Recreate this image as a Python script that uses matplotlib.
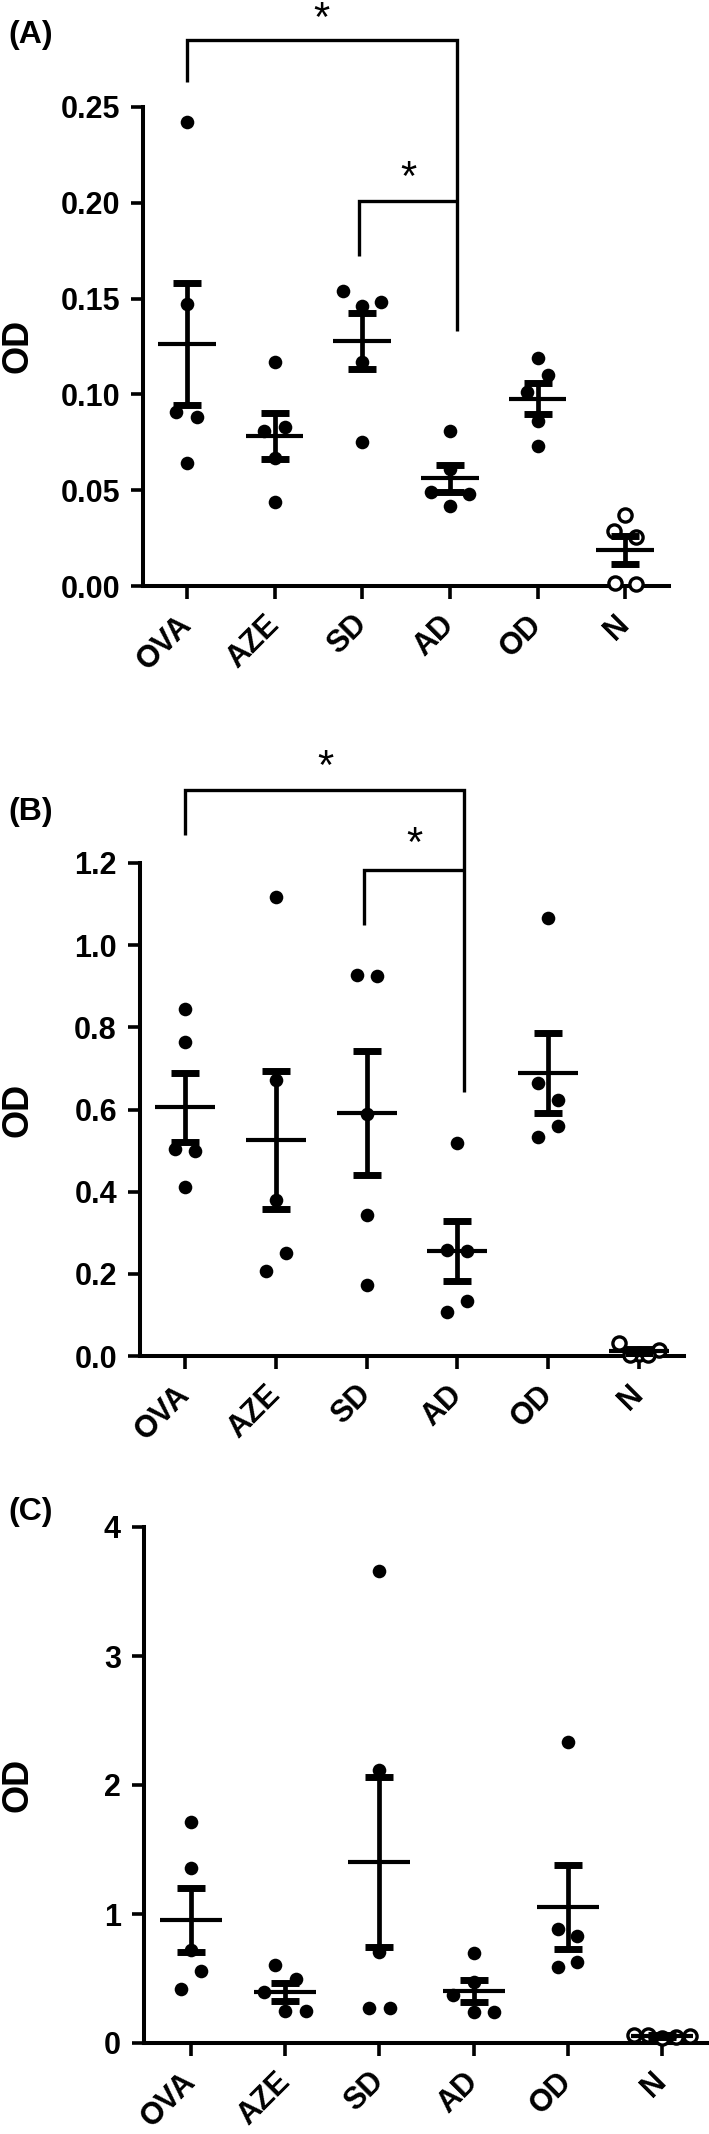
#!/usr/bin/env python3

'''Three stacked dot plots (mean +/- SEM) of OD per group.'''

import numpy as np
import matplotlib
matplotlib.use('Agg')
import matplotlib.pyplot as plt
from matplotlib.transforms import ScaledTranslation

plt.rcParams['font.family'] = ['Liberation Sans', 'DejaVu Sans']
plt.rcParams['font.weight'] = 'bold'

W, H = 709, 2134
DPI = 100

GROUPS = ['OVA', 'AZE', 'SD', 'AD', 'OD', 'N']

# Panel A
A_OVA = [0.242, 0.147, 0.091, 0.088, 0.064]
A_AZE = [0.117, 0.081, 0.083, 0.067, 0.044]
A_SD = [0.154, 0.146, 0.148, 0.117, 0.075]
A_AD = [0.081, 0.061, 0.049, 0.048, 0.042]
A_OD = [0.119, 0.110, 0.101, 0.086, 0.073]
A_N = [0.037, 0.0285, 0.0255, 0.0014, 0.001]
A_TICKS = [0.00, 0.05, 0.10, 0.15, 0.20, 0.25]
A_TICK_LABELS = ['0.00', '0.05', '0.10', '0.15', '0.20', '0.25']

# Panel B
B_OVA = [0.844, 0.765, 0.505, 0.499, 0.412]
B_AZE = [1.118, 0.672, 0.380, 0.250, 0.208]
B_SD = [0.927, 0.925, 0.588, 0.343, 0.174]
B_AD = [0.519, 0.258, 0.256, 0.134, 0.108]
B_OD = [1.067, 0.665, 0.623, 0.560, 0.532]
B_N = [0.031, 0.015, 0.006, 0.003, 0.002]
B_TICKS = [0.0, 0.2, 0.4, 0.6, 0.8, 1.0, 1.2]
B_TICK_LABELS = ['0.0', '0.2', '0.4', '0.6', '0.8', '1.0', '1.2']

# Panel C
C_OVA = [1.714, 1.353, 0.719, 0.559, 0.422]
C_AZE = [0.603, 0.500, 0.396, 0.248, 0.248]
C_SD = [3.659, 2.116, 0.706, 0.272, 0.272]
C_AD = [0.694, 0.470, 0.370, 0.240, 0.240]
C_OD = [2.335, 0.887, 0.828, 0.628, 0.590]
C_N = [0.065, 0.060, 0.040, 0.050, 0.055]
C_TICKS = [0, 1, 2, 3, 4]
C_TICK_LABELS = ['0', '1', '2', '3', '4']

# horizontal scatter of the dots inside each column (category units)
A_JITTER = [[0, 0, -0.12, 0.12, 0], [0, -0.12, 0.12, 0, 0],
            [-0.22, 0, 0.22, 0, 0], [0, 0, -0.22, 0.22, 0],
            [0, 0.12, -0.12, 0, 0], [0, -0.13, 0.12, -0.12, 0.12]]
B_JITTER = [[0, 0, -0.11, 0.11, 0], [0, 0, 0, 0.11, -0.11],
            [-0.11, 0.11, 0, 0, 0], [0, -0.11, 0.11, 0.11, -0.11],
            [0, -0.11, 0.11, 0.11, -0.11], [-0.22, 0.22, 0, -0.1, 0.1]]
C_JITTER = [[0, 0, 0, 0.11, -0.11], [-0.11, 0.11, -0.23, 0, 0.22],
            [0, 0, 0, -0.11, 0.11], [0, 0, -0.22, 0, 0.22],
            [0, -0.1, 0.1, 0.1, -0.1], [-0.3, -0.15, 0, 0.15, 0.3]]

# brackets: x left, x right, top, left leg end, right leg end, star x, star y
A_BRACKETS = [(0.0, 3.08, 0.285, 0.263, 0.133, 1.54, 0.301),
              (1.96, 3.08, 0.201, 0.172, None, 2.53, 0.218)]
B_BRACKETS = [(0.0, 3.07, 1.377, 1.268, 0.643, 1.54, 1.458),
              (1.97, 3.07, 1.184, 1.049, None, 2.53, 1.272)]

LW_AXIS = 2.9
TICK_FS = 22
STAR_FS = 30


def px_rect(left, top, right, bottom):
    '''Pixel box -> figure fraction rect.'''
    return [left / W, 1 - bottom / H, (right - left) / W, (bottom - top) / H]


def draw_panel(fig, box, groups, jitter, ticks, tick_labels, brackets):
    ax = fig.add_axes(px_rect(*box))
    for i, (vals, offs) in enumerate(zip(groups, jitter)):
        vals = np.asarray(vals)
        xs = i + np.asarray(offs)
        if GROUPS[i] == 'N':
            ax.plot(xs, vals, 'o', ms=9.5, mfc='white', mec='black',
                    mew=2.4, clip_on=False, zorder=3)
        else:
            ax.plot(xs, vals, 'o', ms=9.8, color='black', mew=0,
                    clip_on=False, zorder=3)
        mean = vals.mean()
        sem = vals.std(ddof=1) / np.sqrt(len(vals))
        ax.errorbar(i, mean, yerr=sem, fmt='none', ecolor='black',
                    elinewidth=3.4, capsize=10, capthick=5, zorder=4)
        ax.plot([i - 0.33, i + 0.33], [mean, mean], color='black', lw=3,
                solid_capstyle='butt', zorder=4)

    for xl, xr, top, lb, rb, sx, sy in brackets:
        xs = [xl, xl, xr, xr]
        ys = [lb, top, top, rb if rb is not None else top]
        ax.plot(xs, ys, color='black', lw=2.4, clip_on=False,
                solid_joinstyle='miter', solid_capstyle='butt')
        ax.annotate('*', xy=(sx, sy), xytext=(0, -0.53 * STAR_FS),
                    textcoords='offset points', ha='center', va='baseline',
                    fontsize=STAR_FS, fontweight='normal',
                    annotation_clip=False)

    ax.set_xlim(-0.5, 5.5)
    ax.set_ylim(ticks[0], ticks[-1])
    ax.set_yticks(ticks)
    ax.set_yticklabels(tick_labels)
    ax.set_xticks(range(len(GROUPS)))
    ax.set_xticklabels(GROUPS, rotation=45, ha='right', va='center',
                       rotation_mode='anchor')
    shift = ScaledTranslation(5 / DPI, 0, fig.dpi_scale_trans)
    for lab in ax.get_xticklabels():
        lab.set_transform(lab.get_transform() + shift)
    for side in ('top', 'right'):
        ax.spines[side].set_visible(False)
    for side in ('left', 'bottom'):
        ax.spines[side].set_linewidth(LW_AXIS)
    ax.tick_params(axis='y', length=8.6, width=2.6, pad=8, labelsize=TICK_FS)
    ax.tick_params(axis='x', length=9.4, width=2.6, pad=15, labelsize=TICK_FS)
    return ax


fig = plt.figure(figsize=(W / DPI, H / DPI), dpi=DPI)

draw_panel(fig, (143, 107, 669, 586),
           [A_OVA, A_AZE, A_SD, A_AD, A_OD, A_N], A_JITTER,
           A_TICKS, A_TICK_LABELS, A_BRACKETS)
draw_panel(fig, (140, 863, 684, 1356),
           [B_OVA, B_AZE, B_SD, B_AD, B_OD, B_N], B_JITTER,
           B_TICKS, B_TICK_LABELS, B_BRACKETS)
draw_panel(fig, (144, 1527, 709, 2043),
           [C_OVA, C_AZE, C_SD, C_AD, C_OD, C_N], C_JITTER,
           C_TICKS, C_TICK_LABELS, [])

for letter, y in (('(A)', 35), ('(B)', 812), ('(C)', 1512)):
    fig.text(8 / W, 1 - y / H, letter, ha='left', va='center',
             fontsize=23, fontweight='bold')

for y in (346, 1110, 1785):
    fig.text(18 / W, 1 - y / H, 'OD', rotation=90, ha='center', va='center',
             fontsize=26, fontweight='bold')

fig.savefig('out.png', dpi=DPI)
